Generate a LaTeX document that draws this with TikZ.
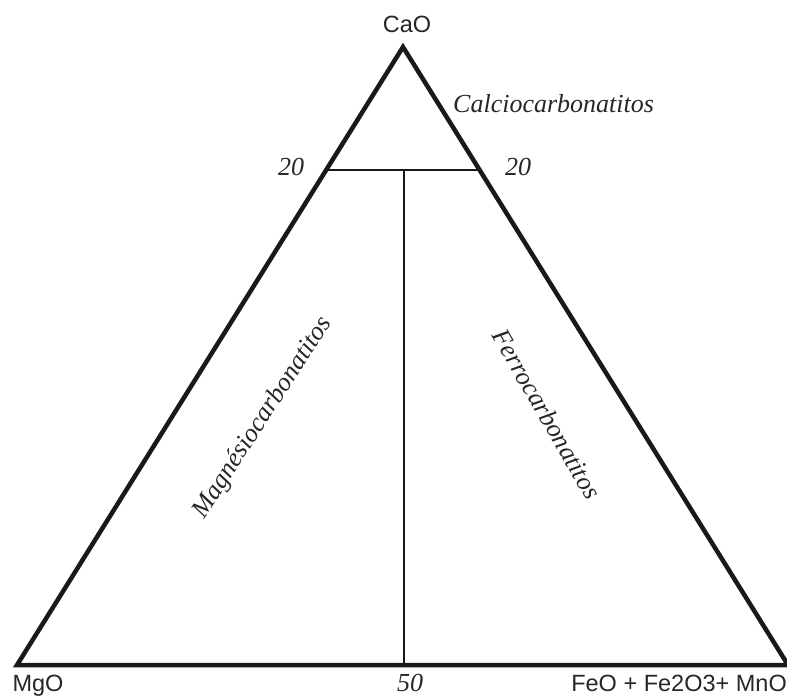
\documentclass[tikz,border=0pt]{standalone}
\usepackage{fontspec}
\usetikzlibrary{calc}
\setmainfont{Liberation Serif}
\newfontfamily\labsans{Liberation Sans}
\begin{document}
\begin{tikzpicture}[x=1pt,y=-1pt,
  frame/.style={line width=4.5pt,line join=miter,black!90},
  divline/.style={line width=2pt,black!90},
  oxide/.style={font=\labsans\fontsize{23.5}{26}\selectfont,anchor=base,inner sep=0pt,text=black!85},
  field/.style={font=\itshape\fontsize{26}{28}\selectfont,inner sep=0pt,text=black!85},
  tick/.style={font=\itshape\fontsize{26}{28}\selectfont,anchor=base,inner sep=0pt,text=black!85}]
\useasboundingbox (0,0) rectangle (787,697);
\coordinate (A) at (403,47);
\coordinate (B) at (17,665);
\coordinate (C) at (788,665);
\coordinate (L20) at ($(A)!0.199!(B)$);
\coordinate (R20) at ($(A)!0.199!(C)$);
\coordinate (M20) at (404,170);
\coordinate (M50) at (404,665);
\draw[frame] (A) -- (B) -- (C) -- cycle;
\draw[divline] (L20) -- (R20);
\draw[divline] (M20) -- (M50);
\node[oxide] (cao) at (407,32) {CaO};
\node[oxide] (mgo) at (38,691) {MgO};
\node[oxide,anchor=base east] (feo) at (787,691) {FeO + Fe2O3+ MnO};
\node[tick] (t50) at (410,691) {50};
\node[tick] (t20l) at (291,175) {20};
\node[tick] (t20r) at (518,175) {20};
\node[field,anchor=base west] (calc) at (453,112) {Calciocarbonatitos};
\node[field,rotate=57] (mag) at (263,418) {Magnésiocarbonatitos};
\node[field,rotate=-60] (ferro) at (547,414) {Ferrocarbonatitos};
\end{tikzpicture}
\end{document}
